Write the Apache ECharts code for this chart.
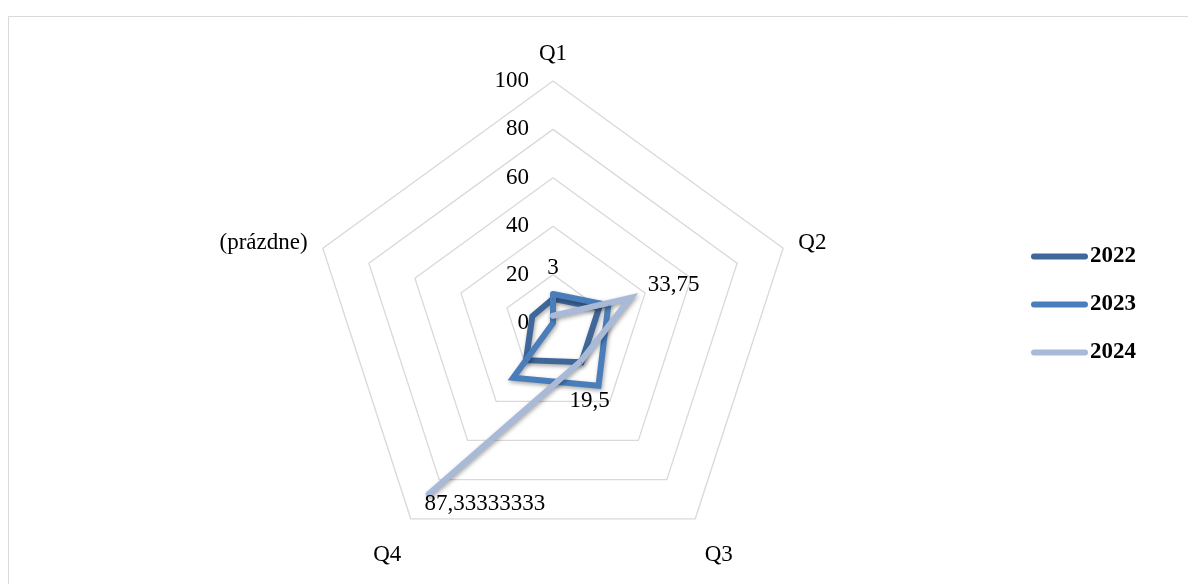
<!DOCTYPE html>
<html>
<head>
<meta charset="utf-8">
<script src="https://cdn.jsdelivr.net/npm/echarts@6/dist/echarts.min.js"></script>
<style>
html,body{margin:0;padding:0;background:#fff;}
#chart{width:1188px;height:584px;}
</style>
</head>
<body>
<div id="chart"></div>
<script>
// ---- data ----
const categories = ['Q1', 'Q2', 'Q3', 'Q4', '(prázdne)'];
const seriesNames = ['2022', '2023', '2024'];
const values2022 = [10, 20, 20, 19, 9];
const values2023 = [12, 24, 32, 28, 0];
const values2024 = [3, 33.75, 19.5, 87.33333333, null];
const radialTicks = [0, 20, 40, 60, 80, 100];

// ---- styling ----
const FONT = '"Liberation Serif", "DejaVu Serif", serif';
const FS = 23;
const colors = ['#3f6799', '#4a7ebb', '#a9bad8'];
const labelOffsets2024 = [[0, -48], [43, -13], [9, 40], [56, 10]];
const lowerNames = [2, 3]; // category indices whose names sit lower
const CENTER = [553, 323];
const RADIUS = 242;

function fmt(v) { return String(v).replace('.', ','); }

function toPolar(arr, closed, offsets) {
  const out = [];
  arr.forEach(function (v, i) {
    if (v === null || v === undefined) return;
    const item = { value: [v, i] };
    if (offsets && offsets[i]) {
      item.label = { show: true, offset: offsets[i] };
    }
    out.push(item);
  });
  if (closed && arr[0] !== null) out.push({ value: [arr[0], arr.length] });
  return out;
}

// radar draws indicators counterclockwise; reorder so names go clockwise like the polar lines
const n = categories.length;
const indicator = [];
for (let k = 0; k < n; k++) {
  const ci = k === 0 ? 0 : n - k;
  const ind = { name: categories[ci], min: radialTicks[0], max: radialTicks[radialTicks.length - 1] };
  if (k === 0) ind.axisLabel = { show: true };
  indicator.push(ind);
}

const lineBase = {
  type: 'line',
  coordinateSystem: 'polar',
  symbol: 'circle',
  symbolSize: 1,
  smooth: false,
  z: 5,
  emphasis: { disabled: true }
};

function mkSeries(name, arr, color, closed, offsets) {
  return Object.assign({}, lineBase, {
    name: name,
    data: toPolar(arr, closed, offsets),
    itemStyle: { color: color },
    lineStyle: {
      color: color, width: 6, cap: 'round', join: 'miter',
      shadowColor: 'rgba(0,0,0,0.35)', shadowBlur: 4, shadowOffsetX: 1, shadowOffsetY: 2
    },
    label: {
      show: false,
      position: 'inside',
      color: '#000',
      fontFamily: FONT,
      fontSize: FS,
      formatter: function (p) { return fmt(p.value[0]); }
    }
  });
}

const chart = echarts.init(document.getElementById('chart'), null, { renderer: 'canvas' });
const legendIcon = 'path://M3,0 L55,0 A3,3 0 0 1 55,6 L3,6 A3,3 0 0 1 3,0 Z';

chart.setOption({
  animation: false,
  backgroundColor: '#fff',
  graphic: [{
    type: 'rect',
    shape: { x: 8.5, y: 16.5, width: 1300, height: 700 },
    style: { fill: 'none', stroke: '#d9d9d9', lineWidth: 1 },
    silent: true, z: -10
  }],
  radar: {
    center: CENTER,
    radius: RADIUS,
    startAngle: 90,
    splitNumber: radialTicks.length - 1,
    shape: 'polygon',
    indicator: indicator,
    nameGap: 16,
    axisName: {
      color: '#000', fontFamily: FONT, fontSize: FS,
      formatter: function (name) {
        const ci = categories.indexOf(name);
        return lowerNames.indexOf(ci) >= 0 ? '\n\n' + name : name;
      }
    },
    axisLine: { show: false },
    axisTick: { show: false },
    axisLabel: { show: false, color: '#000', fontFamily: FONT, fontSize: FS, margin: 24 },
    splitLine: { lineStyle: { color: '#d9d9d9', width: 1.3 } },
    splitArea: { show: false }
  },
  polar: { center: CENTER, radius: RADIUS },
  angleAxis: {
    type: 'value', min: 0, max: categories.length, startAngle: 90, clockwise: true,
    show: false, axisLine: { show: false }, axisLabel: { show: false }, splitLine: { show: false }, axisTick: { show: false }
  },
  radiusAxis: {
    type: 'value', min: radialTicks[0], max: radialTicks[radialTicks.length - 1],
    show: false, axisLine: { show: false }, axisLabel: { show: false }, splitLine: { show: false }, axisTick: { show: false }
  },
  legend: {
    data: seriesNames,
    orient: 'vertical',
    left: 1026,
    top: 240,
    itemWidth: 57,
    itemHeight: 7,
    itemGap: 25,
    icon: legendIcon,
    textStyle: { color: '#000', fontFamily: FONT, fontSize: FS, fontWeight: 'bold', padding: [0, 0, 0, -3] },
    selectedMode: false
  },
  series: [
    mkSeries(seriesNames[0], values2022, colors[0], true, null),
    mkSeries(seriesNames[1], values2023, colors[1], true, null),
    mkSeries(seriesNames[2], values2024, colors[2], false, labelOffsets2024)
  ]
});
</script>
</body>
</html>
